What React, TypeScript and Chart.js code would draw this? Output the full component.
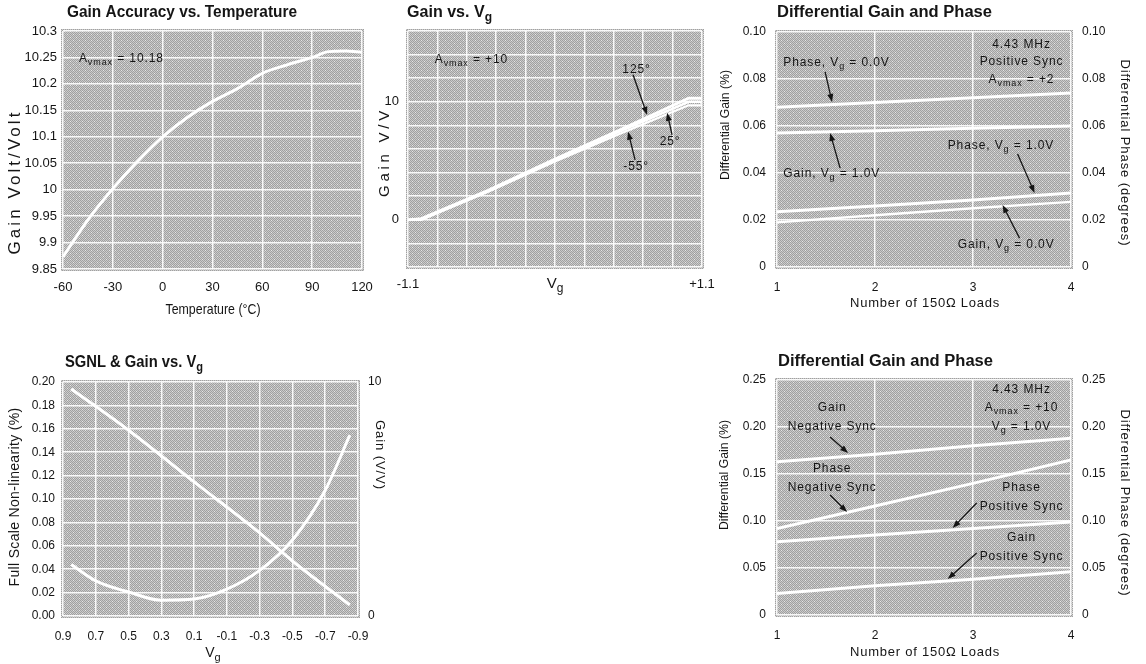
import React, { useEffect, useRef } from 'react';
import { Chart, registerables } from 'chart.js';
Chart.register(...registerables);

const PAGE_W = 1146;
const PAGE_H = 664;
const SANS = '"Liberation Sans", Arial, Helvetica, sans-serif';
const INK = '#151515';
Chart.defaults.font.family = SANS;

// ---------- data: Gain Accuracy vs. Temperature ----------
const tempC = [-60, -45, -30, -15, 0, 15, 30, 45, 60, 75, 90, 100, 110, 120];
const gainVsTemp = [9.873, 9.943, 10.002, 10.054, 10.1, 10.137, 10.167, 10.191, 10.22, 10.236, 10.25, 10.261, 10.262, 10.26];

// ---------- data: Gain vs. Vg ----------
const vgSweep = [-1.1, -1.0, -0.5, 0, 0.5, 1.0, 1.1];
const gain125 = [0, 0.1, 2.5, 5.15, 7.7, 10.3, 10.3];
const gain25 = [0, 0.05, 2.42, 5.05, 7.55, 10.0, 10.0];
const gainM55 = [0, 0, 2.38, 4.95, 7.35, 9.7, 9.7];

// ---------- data: Differential Gain and Phase (Av=+2) ----------
const loads = [1, 2, 3, 4];
const phaseVg0 = [0.068, 0.07, 0.072, 0.074];
const gainVg1 = [0.057, 0.058, 0.059, 0.06];
const phaseVg1 = [0.0235, 0.026, 0.0285, 0.0315];
const gainVg0 = [0.019, 0.022, 0.025, 0.0277];

// ---------- data: SGNL & Gain vs. Vg ----------
const vgSgnl = [0.85, 0.7, 0.5, 0.3, 0.1, -0.1, -0.3, -0.5, -0.7, -0.85];
const sgnlPct = [0.044, 0.03, 0.0205, 0.0135, 0.0145, 0.023, 0.039, 0.065, 0.1075, 0.1545];
const vgGain = [0.85, 0.5, 0.1, -0.3, -0.5, -0.85];
const gainVV = [9.7, 7.94, 5.73, 3.55, 2.35, 0.47];

// ---------- data: Differential Gain and Phase (Av=+10) ----------
const gainNegSync = [0.163, 0.171, 0.18, 0.188];
const phaseNegSync = [0.092, 0.116, 0.14, 0.165];
const phasePosSync = [0.078, 0.085, 0.092, 0.099];
const gainPosSync = [0.023, 0.031, 0.038, 0.046];

// ---------- tick values ----------
const tempTicks = { min: -60, max: 120, step: 30 };
const gainTicks = { min: 9.85, max: 10.3, step: 0.05 };
const vgTicks = { min: -1.1, max: 1.1, step: 0.22 };
const gainVTicks = { min: -4, max: 16, step: 2 };
const dgTicksA = { min: 0, max: 0.1, step: 0.02 };
const dgTicksB = { min: 0, max: 0.25, step: 0.05 };
const sgnlTicks = { min: 0, max: 0.2, step: 0.02 };
const sgnlXTicks = { min: -0.9, max: 0.9, step: 0.2 };

// ---------- helpers ----------
const pts = (xs: number[], ys: number[]) => xs.map((x, i) => ({ x, y: ys[i] }));

function richParts(text: string) {
  const parts: { t: string; sub: boolean }[] = [];
  const re = /_\{([^}]*)\}/g;
  let last = 0;
  let m: RegExpExecArray | null;
  while ((m = re.exec(text))) {
    if (m.index > last) parts.push({ t: text.slice(last, m.index), sub: false });
    parts.push({ t: m[1], sub: true });
    last = re.lastIndex;
  }
  if (last < text.length) parts.push({ t: text.slice(last), sub: false });
  return parts;
}

type TextOpt = { size: number; bold?: boolean; align?: 'left' | 'center'; rot?: number; len?: number; spacing?: number; stretch?: boolean };

function drawRich(ctx: any, text: string, x: number, y: number, o: TextOpt) {
  const parts = richParts(text);
  const font = (sub: boolean) => `${o.bold ? 'bold ' : ''}${sub ? Math.round(o.size * 0.78) : o.size}px ${SANS}`;
  ctx.save();
  let spacing = o.spacing || 0;
  const nChars = parts.reduce((n, p) => n + p.t.length, 0);
  const measure = (sp: number) => {
    ctx.letterSpacing = sp + 'px';
    return parts.map((p) => {
      ctx.font = font(p.sub);
      return ctx.measureText(p.t).width;
    });
  };
  let widths = measure(spacing);
  let total = widths.reduce((a, b) => a + b, 0);
  let sx = 1;
  if (o.len) {
    if (total > o.len || o.stretch) sx = o.len / total;
    else {
      spacing += (o.len - total) / nChars;
      widths = measure(spacing);
      total = widths.reduce((a, b) => a + b, 0);
    }
  }
  ctx.translate(x, y);
  if (o.rot) ctx.rotate((o.rot * Math.PI) / 180);
  ctx.scale(sx, 1);
  let cx = o.align === 'left' ? 0 : -total / 2;
  ctx.fillStyle = INK;
  ctx.textBaseline = 'middle';
  ctx.textAlign = 'left';
  parts.forEach((p, i) => {
    ctx.font = font(p.sub);
    ctx.fillText(p.t, cx, p.sub ? o.size * 0.32 : 0);
    cx += widths[i];
  });
  ctx.letterSpacing = '0px';
  ctx.restore();
}

function drawArrow(ctx: any, x1: number, y1: number, x2: number, y2: number) {
  const a = Math.atan2(y2 - y1, x2 - x1);
  const L = 8;
  const w = 3;
  const c = Math.cos(a);
  const s = Math.sin(a);
  ctx.save();
  ctx.strokeStyle = INK;
  ctx.fillStyle = INK;
  ctx.lineWidth = 1.3;
  ctx.beginPath();
  ctx.moveTo(x1, y1);
  ctx.lineTo(x2 - L * 0.7 * c, y2 - L * 0.7 * s);
  ctx.stroke();
  ctx.beginPath();
  ctx.moveTo(x2, y2);
  ctx.lineTo(x2 - L * c + w * s, y2 - L * s - w * c);
  ctx.lineTo(x2 - L * c - w * s, y2 - L * s + w * c);
  ctx.closePath();
  ctx.fill();
  ctx.restore();
}

let stippleCanvas: HTMLCanvasElement | null = null;
function stipple(ctx: CanvasRenderingContext2D) {
  if (!stippleCanvas) {
    stippleCanvas = document.createElement('canvas');
    stippleCanvas.width = 6;
    stippleCanvas.height = 6;
    const g = stippleCanvas.getContext('2d')!;
    for (let yy = 0; yy < 6; yy++)
      for (let xx = 0; xx < 6; xx++) {
        let col = (xx + yy) % 2 === 0 ? '#a0a0a0' : '#cbcbcb';
        if ((xx === 1 && yy === 4) || (xx === 4 && yy === 1)) col = '#e6e6e6';
        g.fillStyle = col;
        g.fillRect(xx, yy, 1, 1);
      }
  }
  return ctx.createPattern(stippleCanvas, 'repeat')!;
}

type AxisTitle = { t: string; x: number; y: number; size: number; len?: number; rot?: number };
type Note = { t: string; x: number; y: number; align?: 'left' | 'center'; axis?: string };
type Panel = {
  id: string;
  area: { l: number; t: number; r: number; b: number };
  title: { t: string; x: number; y: number; w: number };
  axisTitles: AxisTitle[];
  notes: Note[];
  arrows: number[][];
  datasets: any[];
  scales: any;
  right?: boolean;
};

const GRID = { color: 'rgba(255,255,255,0.9)', lineWidth: 1.5, drawTicks: false };
const NOGRID = { display: false, drawTicks: false };
const tickFont = (size = 12) => ({ family: SANS, size });

function linAxis(r: { min: number; max: number; step: number }, extra: any) {
  return {
    type: 'linear',
    min: r.min,
    max: r.max,
    grid: GRID,
    border: { display: false },
    ...extra,
    ticks: { stepSize: r.step, autoSkip: false, maxRotation: 0, color: INK, font: tickFont(12), ...(extra.ticks || {}) },
  };
}
const fitW = (w: number) => (s: any) => {
  s.width = w;
};
const fitH = (h: number) => (s: any) => {
  s.height = h;
};

const white = (data: any[], width = 3, extra: any = {}) => ({
  data,
  borderColor: '#ffffff',
  borderWidth: width,
  pointRadius: 0,
  fill: false,
  ...extra,
});

const PANELS: Panel[] = [
  {
    id: 'temp',
    area: { l: 63, t: 31, r: 362, b: 269 },
    title: { t: 'Gain Accuracy vs. Temperature', x: 67, y: 13, w: 230 },
    axisTitles: [
      { t: 'Gain Volt/Volt', x: 15, y: 182, size: 17, len: 145, rot: -90 },
      { t: 'Temperature (°C)', x: 213, y: 310, size: 15, len: 95 },
    ],
    notes: [{ t: 'A_{vmax} = 10.18', x: -50.4, y: 10.247, align: 'left' }],
    arrows: [],
    datasets: [white(pts(tempC, gainVsTemp), 3, { cubicInterpolationMode: 'monotone' })],
    scales: {
      x: linAxis(tempTicks, { afterFit: fitH(30), ticks: { padding: 11, font: tickFont(13) } }),
      y: linAxis(gainTicks, {
        afterFit: fitW(40),
        ticks: { padding: 6, font: tickFont(13), callback: (v: number) => String(Math.round(v * 100) / 100) },
      }),
    },
  },
  {
    id: 'vg',
    area: { l: 408, t: 31, r: 702, b: 267 },
    title: { t: 'Gain vs. V_{g}', x: 407, y: 13, w: 85 },
    axisTitles: [
      { t: 'Gain V/V', x: 385, y: 152, size: 15, len: 90, rot: -90 },
      { t: 'V_{g}', x: 555, y: 284, size: 15 },
    ],
    notes: [
      { t: 'A_{vmax} = +10', x: -0.9, y: 13.55, align: 'left' },
      { t: '125°', x: 0.61, y: 12.7, align: 'center' },
      { t: '25°', x: 0.861, y: 6.6, align: 'center' },
      { t: '-55°', x: 0.607, y: 4.49, align: 'center' },
    ],
    arrows: [
      [0.584, 12.29, 0.689, 8.9],
      [0.876, 7.2, 0.839, 9.07],
      [0.599, 5.08, 0.547, 7.46],
    ],
    datasets: [
      white(pts(vgSweep, gainM55), 2.2),
      white(pts(vgSweep, gain25), 2.4),
      white(pts(vgSweep, gain125), 2.8),
    ],
    scales: {
      x: linAxis(vgTicks, {
        afterFit: fitH(30),
        ticks: {
          padding: 10,
          font: tickFont(13),
          callback: (_v: number, i: number, t: any[]) => (i === 0 ? '-1.1' : i === t.length - 1 ? '+1.1' : ''),
        },
      }),
      y: linAxis(gainVTicks, {
        afterFit: fitW(40),
        ticks: { padding: 9, font: tickFont(13), callback: (v: number) => (v === 0 || v === 10 ? String(v) : '') },
      }),
    },
  },
  {
    id: 'dg2',
    area: { l: 777, t: 32, r: 1071, b: 267 },
    right: true,
    title: { t: 'Differential Gain and Phase', x: 777, y: 13, w: 215 },
    axisTitles: [
      { t: 'Differential Gain (%)', x: 725, y: 125, size: 13, len: 110, rot: -90 },
      { t: 'Differential Phase (degrees)', x: 1125, y: 153, size: 13, len: 187, rot: 90 },
      { t: 'Number of 150Ω Loads', x: 925, y: 303, size: 13, len: 150 },
    ],
    notes: [
      { t: 'Phase, V_{g} = 0.0V', x: 1.064, y: 0.0868, align: 'left' },
      { t: '4.43 MHz', x: 3.495, y: 0.0945, align: 'center' },
      { t: 'Positive Sync', x: 3.495, y: 0.0872, align: 'center' },
      { t: 'A_{vmax} = +2', x: 3.495, y: 0.0796, align: 'center' },
      { t: 'Gain, V_{g} = 1.0V', x: 1.064, y: 0.0396, align: 'left' },
      { t: 'Phase, V_{g} = 1.0V', x: 2.742, y: 0.0515, align: 'left' },
      { t: 'Gain, V_{g} = 0.0V', x: 2.844, y: 0.00936, align: 'left' },
    ],
    arrows: [
      [1.491, 0.083, 1.562, 0.0702],
      [1.644, 0.0421, 1.542, 0.057],
      [3.455, 0.0481, 3.628, 0.0315],
      [3.475, 0.0123, 3.302, 0.0264],
    ],
    datasets: [
      white(pts(loads, phaseVg0)),
      white(pts(loads, gainVg1)),
      white(pts(loads, phaseVg1)),
      white(pts(loads, gainVg0), 2.4),
    ],
    scales: {
      x: linAxis({ min: 1, max: 4, step: 1 }, { afterFit: fitH(30), ticks: { padding: 13 } }),
      y: linAxis(dgTicksA, {
        afterFit: fitW(40),
        ticks: { padding: 11, callback: (v: number) => (v === 0 ? '0' : v.toFixed(2)) },
      }),
      y2: linAxis(dgTicksA, {
        position: 'right',
        grid: NOGRID,
        afterFit: fitW(40),
        ticks: { padding: 11, callback: (v: number) => (v === 0 ? '0' : v.toFixed(2)) },
      }),
    },
  },
  {
    id: 'sgnl',
    area: { l: 63, t: 382, r: 358, b: 616 },
    right: true,
    title: { t: 'SGNL & Gain vs. V_{g}', x: 65, y: 363, w: 138 },
    axisTitles: [
      { t: 'Full Scale Non-linearity (%)', x: 15, y: 497, size: 14, len: 179, rot: -90 },
      { t: 'Gain (V/V)', x: 380, y: 455, size: 13, len: 70, rot: 90 },
      { t: 'V_{g}', x: 213, y: 653, size: 14 },
    ],
    notes: [],
    arrows: [],
    datasets: [
      white(pts(vgSgnl, sgnlPct), 3, { cubicInterpolationMode: 'monotone' }),
      white(pts(vgGain, gainVV), 3, { yAxisID: 'y2', cubicInterpolationMode: 'monotone' }),
    ],
    scales: {
      x: linAxis(sgnlXTicks, {
        reverse: true,
        afterFit: fitH(30),
        ticks: { padding: 13, callback: (v: number) => v.toFixed(1) },
      }),
      y: linAxis(sgnlTicks, {
        afterFit: fitW(40),
        ticks: { padding: 8, callback: (v: number) => v.toFixed(2) },
      }),
      y2: linAxis({ min: 0, max: 10, step: 10 }, {
        position: 'right',
        grid: NOGRID,
        afterFit: fitW(40),
        ticks: { padding: 10, callback: (v: number) => String(v) },
      }),
    },
  },
  {
    id: 'dg10',
    area: { l: 777, t: 380, r: 1071, b: 615 },
    right: true,
    title: { t: 'Differential Gain and Phase', x: 778, y: 362, w: 215 },
    axisTitles: [
      { t: 'Differential Gain (%)', x: 724, y: 475, size: 13, len: 110, rot: -90 },
      { t: 'Differential Phase (degrees)', x: 1125, y: 503, size: 13, len: 187, rot: 90 },
      { t: 'Number of 150Ω Loads', x: 925, y: 652, size: 13, len: 150 },
    ],
    notes: [
      { t: 'Gain', x: 1.563, y: 0.2202, align: 'center' },
      { t: 'Negative Sync', x: 1.563, y: 0.2, align: 'center' },
      { t: 'Phase', x: 1.563, y: 0.1553, align: 'center' },
      { t: 'Negative Sync', x: 1.563, y: 0.1351, align: 'center' },
      { t: '4.43 MHz', x: 3.495, y: 0.2394, align: 'center' },
      { t: 'A_{vmax} = +10', x: 3.495, y: 0.2202, align: 'center' },
      { t: 'V_{g} = 1.0V', x: 3.495, y: 0.2, align: 'center' },
      { t: 'Phase', x: 3.495, y: 0.1351, align: 'center' },
      { t: 'Positive Sync', x: 3.495, y: 0.1149, align: 'center' },
      { t: 'Gain', x: 3.495, y: 0.0819, align: 'center' },
      { t: 'Positive Sync', x: 3.495, y: 0.0617, align: 'center' },
    ],
    arrows: [
      [1.542, 0.1894, 1.725, 0.1723],
      [1.542, 0.1277, 1.715, 0.1096],
      [3.037, 0.1191, 2.793, 0.0926],
      [3.037, 0.066, 2.742, 0.0383],
    ],
    datasets: [
      white(pts(loads, gainNegSync)),
      white(pts(loads, phaseNegSync)),
      white(pts(loads, phasePosSync)),
      white(pts(loads, gainPosSync)),
    ],
    scales: {
      x: linAxis({ min: 1, max: 4, step: 1 }, { afterFit: fitH(30), ticks: { padding: 13 } }),
      y: linAxis(dgTicksB, {
        afterFit: fitW(40),
        ticks: { padding: 11, callback: (v: number) => (v === 0 ? '0' : v.toFixed(2)) },
      }),
      y2: linAxis(dgTicksB, {
        position: 'right',
        grid: NOGRID,
        afterFit: fitW(40),
        ticks: { padding: 11, callback: (v: number) => (v === 0 ? '0' : v.toFixed(2)) },
      }),
    },
  },
];

function decoPlugin(p: Panel) {
  return {
    id: 'deco_' + p.id,
    beforeDraw(chart: any) {
      const { ctx, chartArea: a } = chart;
      ctx.save();
      ctx.fillStyle = stipple(ctx);
      ctx.fillRect(a.left - 2, a.top - 2, a.right - a.left + 4, a.bottom - a.top + 4);
      ctx.restore();
    },
    afterDraw(chart: any) {
      const { ctx } = chart;
      const xs = chart.scales.x;
      const ys = chart.scales.y;
      drawRich(ctx, p.title.t, p.title.x, p.title.y, { size: 16, bold: true, align: 'left', len: p.title.w, stretch: true });
      p.axisTitles.forEach((a) => drawRich(ctx, a.t, a.x, a.y, { size: a.size, align: 'center', rot: a.rot, len: a.len }));
      p.notes.forEach((n) => {
        const sc = chart.scales[n.axis || 'y'];
        drawRich(ctx, n.t, xs.getPixelForValue(n.x), sc.getPixelForValue(n.y), { size: 12, align: n.align, spacing: 0.9 });
      });
      p.arrows.forEach(([x1, y1, x2, y2]) =>
        drawArrow(ctx, xs.getPixelForValue(x1), ys.getPixelForValue(y1), xs.getPixelForValue(x2), ys.getPixelForValue(y2))
      );
    },
  };
}

function makeConfig(p: Panel) {
  const rightW = p.right ? 40 : 0;
  return {
    type: 'line',
    data: { datasets: p.datasets },
    options: {
      animation: false,
      responsive: false,
      maintainAspectRatio: false,
      events: [],
      layout: {
        padding: {
          left: p.area.l - 40,
          top: p.area.t,
          right: PAGE_W - p.area.r - rightW,
          bottom: PAGE_H - p.area.b - 30,
        },
      },
      plugins: { legend: { display: false }, tooltip: { enabled: false }, title: { display: false } },
      scales: p.scales,
    },
    plugins: [decoPlugin(p)],
  };
}

export default function App() {
  const refs = useRef<(HTMLCanvasElement | null)[]>([]);
  useEffect(() => {
    const charts = PANELS.map((p, i) => new Chart(refs.current[i] as HTMLCanvasElement, makeConfig(p) as any));
    return () => charts.forEach((c) => c.destroy());
  }, []);
  return (
    <div style={{ position: 'absolute', left: 0, top: 0, width: PAGE_W, height: PAGE_H, background: '#fff' }}>
      {PANELS.map((p, i) => (
        <canvas
          key={p.id}
          ref={(el) => {
            refs.current[i] = el;
          }}
          width={PAGE_W}
          height={PAGE_H}
          style={{ position: 'absolute', left: 0, top: 0 }}
        />
      ))}
    </div>
  );
}
